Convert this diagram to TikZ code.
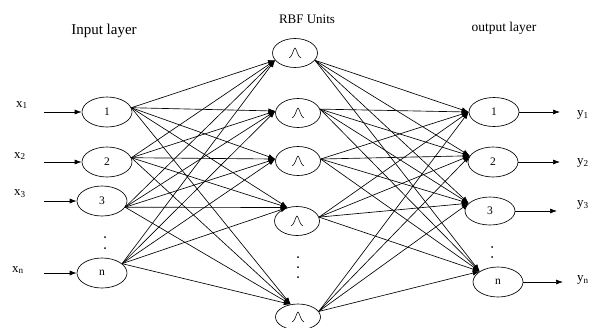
\documentclass[tikz,border=0pt]{standalone}
\usepackage{fontspec}
\setmainfont{Liberation Serif}
\usetikzlibrary{shapes.geometric,arrows.meta}

\tikzset{
  unit/.style={draw, ellipse, line width=0.65pt, inner sep=0pt,
               minimum width=50pt, minimum height=30pt, font=\fontsize{11.5}{11.5}\selectfont},
  rbf/.style={draw, ellipse, line width=0.65pt, inner sep=0pt,
              minimum width=45pt, minimum height=29pt},
  feed/.style={line width=0.65pt, -{Latex[length=7pt,width=5pt]}},
  header/.style={inner sep=0pt, font=\fontsize{13}{13}\selectfont},
  io/.style={inner sep=0pt, font=\fontsize{13}{13}\selectfont},
  vdot/.style={fill=black, draw=none}
}

\begin{document}
\begin{tikzpicture}[x=1pt, y=-1pt]
\useasboundingbox (0,0) rectangle (593,327);

% layer titles
\node[header, font=\fontsize{15}{15}\selectfont] (tin)  at (104,31) {Input layer};
\node[header] (trbf) at (307,19) {RBF Units};
\node[header, font=\fontsize{13.5}{13.5}\selectfont] (tout) at (504,28) {output layer};

% input layer
\node[unit] (i1) at (107,112) {1};
\node[unit] (i2) at (107,162) {2};
\node[unit] (i3) at (102,201) {3};
\node[unit] (in) at (102,273) {n};
\fill[vdot] (105,237) circle (1pt) (105,248) circle (1pt);

% RBF layer
\node[rbf] (r1) at (295,53)  {};
\node[rbf] (r2) at (298,113) {};
\node[rbf] (r3) at (298,161) {};
\node[rbf] (r4) at (297,221) {};
\node[rbf, minimum height=26pt] (r5) at (298,317) {};
\fill[vdot] (298,257) circle (1pt) (298,267) circle (1pt) (298,277) circle (1pt);
\foreach \r in {r1,r2,r3,r4,r5}
  \draw[line width=0.55pt, shift={(\r.center)}]
    (-6,5) .. controls (-3,4.6) and (-1.3,-5) .. (0,-5)
    .. controls (1.3,-5) and (3,4.6) .. (6,5);

% output layer
\node[unit, minimum height=29pt] (o1) at (494,112) {1};
\node[unit] (o2) at (493,162) {2};
\node[unit, minimum height=28pt] (o3) at (490,211) {3};
\node[unit] (on) at (498,282) {n};
\fill[vdot] (492,247) circle (1pt) (492,257) circle (1pt);

% inputs
\node[io] (lx1) at (22,105) {x\textsubscript{1}};
\node[io] (lx2) at (20,156) {x\textsubscript{2}};
\node[io] (lx3) at (20,194) {x\textsubscript{3}};
\node[io] (lxn) at (18,270) {x\textsubscript{n}};
\coordinate (ax1) at (44,112);
\coordinate (ax2) at (44,162);
\coordinate (ax3) at (44,201);
\coordinate (axn) at (44,273);
\draw[feed] (ax1) -- (i1.west);
\draw[feed] (ax2) -- (i2.west);
\draw[feed] (ax3) -- (i3.west);
\draw[feed] (axn) -- (in.west);

% outputs
\coordinate (ay1) at (560,112);
\coordinate (ay2) at (560,162);
\coordinate (ay3) at (557,211);
\coordinate (ayn) at (563,282);
\draw[feed] (o1.east) -- (ay1);
\draw[feed] (o2.east) -- (ay2);
\draw[feed] (o3.east) -- (ay3);
\draw[feed] (on.east) -- (ayn);
\node[io, anchor=west] (ly1) at (577,115) {y\textsubscript{1}};
\node[io, anchor=west] (ly2) at (577,163) {y\textsubscript{2}};
\node[io, anchor=west] (ly3) at (577,205) {y\textsubscript{3}};
\node[io, anchor=west] (lyn) at (577,280) {y\textsubscript{n}};

% input -> RBF (fully connected)
\foreach \i/\a in {i1/10, i2/10, i3/-15, in/25}
  \foreach \r/\b in {r1/200, r2/175, r3/175, r4/125, r5/120}
    \draw[feed] (\i.\a) -- (\r.\b);

% RBF -> output (fully connected)
\foreach \r/\a in {r1/-20, r2/10, r3/5, r4/10, r5/15}
  \foreach \o/\b in {o1/180, o2/165, o3/160, on/150}
    \draw[feed] (\r.\a) -- (\o.\b);

\end{tikzpicture}
\end{document}
